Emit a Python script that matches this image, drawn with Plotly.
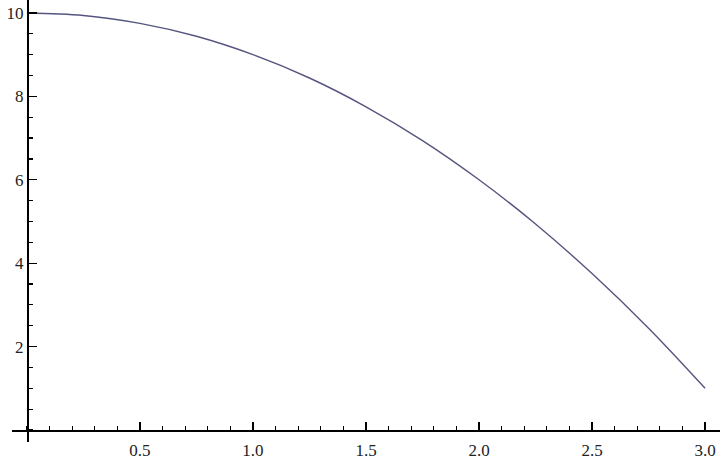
import plotly.graph_objects as go

# valores
x_vals = [0.0, 0.25, 0.5, 0.75, 1.0, 1.25, 1.5, 1.75, 2.0, 2.25, 2.5, 2.75, 3.0]
y_vals = [10.0, 9.94, 9.75, 9.44, 9.0, 8.44, 7.75, 6.94, 6.0, 4.94, 3.75, 2.44, 1.0]

x_ticks = [0.5, 1.0, 1.5, 2.0, 2.5, 3.0]
x_labels = ['0.5', '1.0', '1.5', '2.0', '2.5', '3.0']
y_ticks = [2, 4, 6, 8, 10]
y_labels = ['2', '4', '6', '8', '10']

W, H = 720, 462
fonte = dict(family='Liberation Serif', size=17, color='#222222')

fig = go.Figure(go.Scatter(x=x_vals, y=y_vals, mode='lines', line_shape='spline',
                           line=dict(color='#55557f', width=1.4), hoverinfo='skip'))

fig.update_layout(
    width=W, height=H,
    margin=dict(l=0, r=0, t=0, b=0),
    paper_bgcolor='white', plot_bgcolor='white',
    showlegend=False,
    xaxis=dict(domain=[12 / W, 1], range=[-0.066, 3.066], anchor='free',
               position=(H - 430) / H, showgrid=False, zeroline=False,
               showline=True, linecolor='black', linewidth=1.5,
               tickmode='array', tickvals=x_ticks, ticktext=x_labels,
               ticks='inside', ticklen=8, tickwidth=1.3, tickcolor='black',
               minor=dict(tickmode='linear', tick0=0, dtick=0.1, ticks='inside',
                          ticklen=4, tickwidth=1.2, tickcolor='black', showgrid=False),
               tickfont=fonte, ticklabelstandoff=4, automargin=False),
    yaxis=dict(domain=[(H - 442) / H, 1], range=[-0.288, 10.31], anchor='free',
               position=27 / W, showgrid=False, zeroline=False,
               showline=True, linecolor='black', linewidth=1.5,
               tickmode='array', tickvals=y_ticks, ticktext=y_labels,
               ticks='inside', ticklen=8, tickwidth=1.3, tickcolor='black',
               minor=dict(tickmode='linear', tick0=0, dtick=0.5, ticks='inside',
                          ticklen=4, tickwidth=1.2, tickcolor='black', showgrid=False),
               tickfont=fonte, automargin=False),
)

# tira a margem padrão da página para o gráfico ocupar a janela inteira
fig.write_html('out.html', config={'displayModeBar': False, 'staticPlot': True},
               post_script="document.body.style.margin='0px';")
